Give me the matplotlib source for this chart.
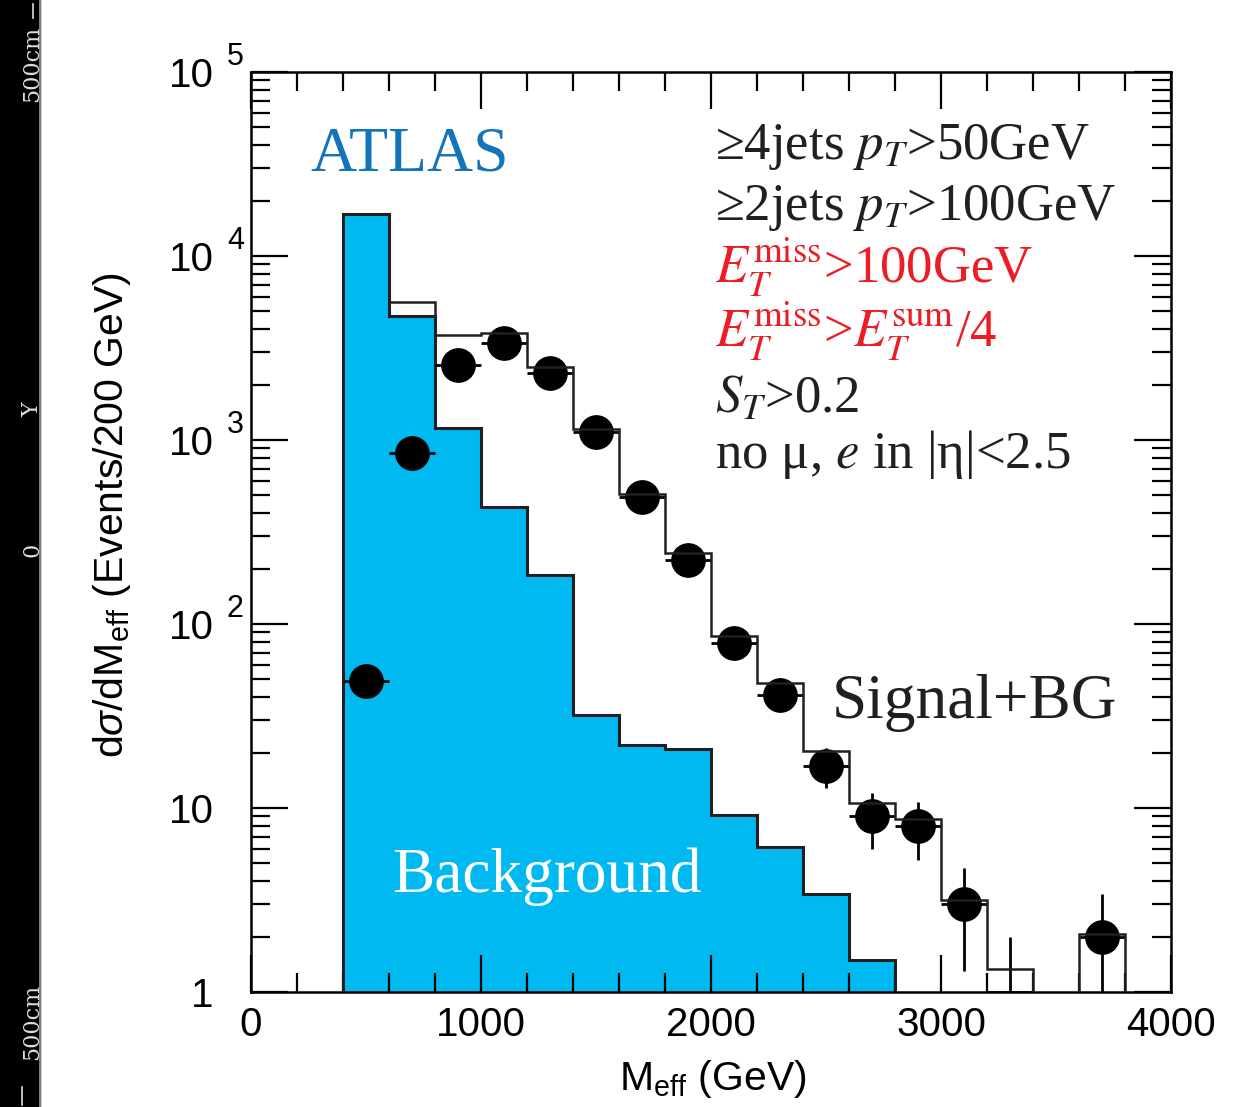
import numpy as np
import matplotlib
matplotlib.use("Agg")
import matplotlib.pyplot as plt
from matplotlib.patches import Rectangle
from matplotlib.lines import Line2D
from matplotlib.ticker import FixedLocator, LogLocator, MultipleLocator, NullFormatter

plt.rcParams["font.family"] = ["Liberation Sans", "DejaVu Sans"]
plt.rcParams["mathtext.fontset"] = "custom"
plt.rcParams["mathtext.rm"] = "Liberation Sans"
plt.rcParams["mathtext.it"] = "Liberation Sans:italic"

# background histogram (200 GeV bins)
bg_edges = [400, 600, 800, 1000, 1200, 1400, 1600, 1800, 2000, 2200, 2400, 2600, 2800]
bg_counts = [16900, 4720, 1160, 432, 185, 32, 22, 21, 9.2, 6.1, 3.4, 1.5]

# signal + background histogram
sb_edges = [400, 600, 800, 1000, 1200, 1400, 1600, 1800, 2000, 2200, 2400,
            2600, 2800, 3000, 3200, 3400, 3600, 3800]
sb_counts = [16900, 5620, 3720, 3810, 2490, 1150, 509, 243, 86, 47.5, 20.3,
             10.6, 8.7, 3.16, 1.33, 0, 2.06]

# pseudo-data points
data_x = [500, 700, 900, 1100, 1300, 1500, 1700, 1900, 2100, 2300, 2500,
          2700, 2900, 3100, 3300, 3700]
data_y = [49, 850, 2560, 3370, 2310, 1110, 490, 223, 79, 41, 17, 9, 8, 3, 1, 2]
data_err = [7, 29, 51, 58, 48, 33, 22, 15, 8.9, 6.4, 4.1, 3.0, 2.8, 1.7, 1.0, 1.4]
half_bin = 100

cuts = [
    (r"≥4jets $p_T$>50GeV", "#231f20"),
    (r"≥2jets $p_T$>100GeV", "#231f20"),
    (r"$E_T^{\mathrm{miss}}$>100GeV", "#ed1c24"),
    (r"$E_T^{\mathrm{miss}}$>$E_T^{\mathrm{sum}}$/4", "#ed1c24"),
    (r"$S_T$>0.2", "#231f20"),
    (r"no μ, $e$ in |η|<2.5", "#231f20"),
]
cut_baselines = [0.905, 0.839, 0.771, 0.701, 0.630, 0.570]

W, H = 1238, 1107
fig = plt.figure(figsize=(W / 100, H / 100), dpi=100)
ax = fig.add_axes((251 / W, 1 - 992 / H, 920 / W, 920 / H))

# black ruler strip on the left
fig.patches.append(Rectangle((0, 0), 40 / W, 1, transform=fig.transFigure,
                             color="black", zorder=0))
fig.lines.append(Line2D([40 / W, 40 / W], [0, 1], transform=fig.transFigure,
                        color="#999999", lw=1.2))
fig.lines.append(Line2D([33 / W, 33 / W], [1 - 4 / H, 1 - 18 / H],
                        transform=fig.transFigure, color="#dddddd", lw=1.2))
fig.lines.append(Line2D([22 / W, 22 / W], [1 - 1087 / H, 1 - 1105 / H],
                        transform=fig.transFigure, color="#dddddd", lw=1.2))
for label, ypix in [("500cm", 64), ("Y", 410), ("0", 550), ("500cm", 1022)]:
    fig.text(32 / W, 1 - ypix / H, label, rotation=90, color="#dddddd",
             fontsize=16, family="DejaVu Serif", ha="center", va="center")

ax.set_yscale("log")

# histograms
ax.stairs(bg_counts, bg_edges, baseline=0.01, fill=True, color="#00b9f1", zorder=1)
ax.stairs(bg_counts, bg_edges, baseline=0.01, color="#231f20", lw=2.2, zorder=2)

dx = np.array(data_x, dtype=float)
dy = np.array(data_y, dtype=float)
de = np.array(data_err, dtype=float)
lower = np.minimum(de, dy - 0.01)
ax.errorbar(dx, dy, xerr=half_bin, yerr=[lower, de], fmt="none",
            ecolor="black", elinewidth=2.0, capsize=0, zorder=3)
shown = dy > 1
ax.plot(dx[shown], dy[shown], "o", ms=24, color="black", zorder=4)

ax.stairs(np.clip(sb_counts, 0.01, None), sb_edges, baseline=0.01,
          color="#231f20", lw=1.8, zorder=5)

ax.set_xlim(0, 4000)
ax.set_ylim(1, 1e5)

# ticks
ax.xaxis.set_major_locator(MultipleLocator(1000))
ax.xaxis.set_minor_locator(MultipleLocator(200))
decades = [1, 10, 100, 1000, 10000, 100000]
ax.yaxis.set_major_locator(FixedLocator(decades))
ax.yaxis.set_minor_locator(LogLocator(base=10, subs=np.arange(2, 10)))
ax.yaxis.set_minor_formatter(NullFormatter())
ax.set_yticklabels(["1", "10", "10", "10", "10", "10"])
ax.tick_params(which="both", direction="in", top=True, right=True,
               width=1.6, color="black")
ax.tick_params(which="major", length=26.5)
ax.tick_params(which="minor", length=13.5)
ax.tick_params(axis="x", labelsize=29, pad=10)
ax.tick_params(axis="y", labelsize=29, pad=27)
for k, val in enumerate(decades):
    if k >= 2:
        ax.annotate(str(k), xy=(0, val), xycoords=("axes fraction", "data"),
                    xytext=(-24, 7), textcoords="offset pixels",
                    fontsize=22, ha="left", va="baseline")
for s in ax.spines.values():
    s.set_linewidth(1.8)

# axis titles
fig.text(112 / W, 1 - 515 / H, r"d$\sigma$/dM$_{\mathrm{eff}}$ (Events/200 GeV)",
         rotation=90, fontsize=29.5, ha="center", va="center")
fig.text(713 / W, 1 - 1079 / H, r"M$_{\mathrm{eff}}$ (GeV)",
         fontsize=29.5, ha="center", va="center")

# in-plot texts
serif = ["Liberation Serif", "DejaVu Serif"]
ax.text(0.065, 0.893, "ATLAS", transform=ax.transAxes, color="#1474bb",
        fontsize=46, family=serif, va="baseline", ha="left")
for (txt, col), yb in zip(cuts, cut_baselines):
    ax.text(0.504, yb, txt, transform=ax.transAxes, color=col, fontsize=38,
            family=serif, math_fontfamily="stix", va="baseline", ha="left")
ax.text(0.6315, 0.298, "Signal+BG", transform=ax.transAxes, color="#231f20",
        fontsize=45.5, family=serif, va="baseline", ha="left", zorder=6)
ax.text(0.153, 0.1087, "Background", transform=ax.transAxes, color="white",
        fontsize=45.5, family=serif, va="baseline", ha="left", zorder=6)

fig.savefig("out.png", dpi=100)
